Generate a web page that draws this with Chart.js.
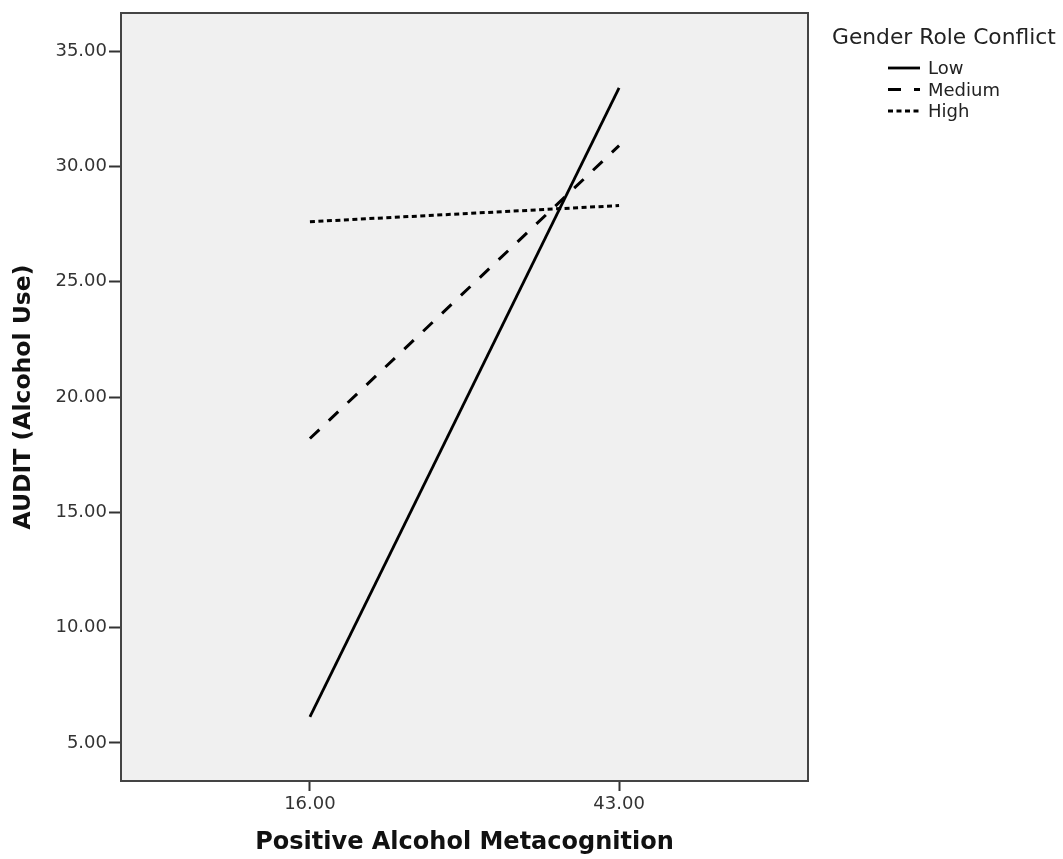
<!DOCTYPE html>
<html>
<head>
<meta charset="utf-8">
<script src="https://cdn.jsdelivr.net/npm/chart.js@4/dist/chart.umd.min.js"></script>
<style>
  html, body { margin: 0; padding: 0; background: #fff; }
  canvas { display: block; }
</style>
</head>
<body>
<canvas id="chart" width="1063" height="859"></canvas>
<script>
"use strict";
// values
const xValues = [16, 43];
const lowValues = [6.13, 33.4];
const mediumValues = [18.2, 30.9];
const highValues = [27.6, 28.3];
const seriesLabels = ["Low", "Medium", "High"];
const xTicks = [16, 43];
const yTicks = [5, 10, 15, 20, 25, 30, 35];
const legendTitle = "Gender Role Conflict";

const FONT = "'DejaVu Sans', 'Lucida Grande', sans-serif";

function toPoints(ys) {
    return xValues.map((x, i) => ({ x: x, y: ys[i] }));
}

// plot area fill + frame
const plotFrame = {
    id: "plotFrame",
    beforeDraw(chart) {
        const a = chart.chartArea;
        const ctx = chart.ctx;
        ctx.save();
        ctx.fillStyle = "#f0f0f0";
        ctx.fillRect(a.left, a.top, a.right - a.left, a.bottom - a.top);
        ctx.restore();
    },
    afterDatasetsDraw(chart) {
        const a = chart.chartArea;
        const ctx = chart.ctx;
        ctx.save();
        ctx.strokeStyle = "#444";
        ctx.lineWidth = 2;
        ctx.strokeRect(a.left, a.top, a.right - a.left, a.bottom - a.top);
        ctx.restore();
    }
};

// legend in the right margin, like the SPSS one
const sideLegend = {
    id: "sideLegend",
    afterDraw(chart) {
        const ctx = chart.ctx;
        ctx.save();
        ctx.fillStyle = "#222";
        ctx.textBaseline = "middle";
        ctx.textAlign = "left";
        ctx.font = "21.8px " + FONT;
        ctx.fillText(legendTitle, 832, 38);
        ctx.font = "18px " + FONT;
        chart.data.datasets.forEach((ds, i) => {
            const y = 68 + i * 21.5;
            ctx.strokeStyle = ds.borderColor;
            ctx.lineWidth = ds.borderWidth;
            ctx.setLineDash(ds.borderDash || []);
            ctx.beginPath();
            ctx.moveTo(888, y);
            ctx.lineTo(920, y);
            ctx.stroke();
            ctx.setLineDash([]);
            ctx.fillText(ds.label, 928, y + 1.5);
        });
        ctx.restore();
    }
};

function createChart() {
    const ctx = document.getElementById("chart").getContext("2d");
    new Chart(ctx, {
        type: "line",
        data: {
            datasets: [
                {
                    label: seriesLabels[0],
                    data: toPoints(lowValues),
                    borderColor: "#000",
                    borderWidth: 2.8,
                    borderDash: [],
                },
                {
                    label: seriesLabels[1],
                    data: toPoints(mediumValues),
                    borderColor: "#000",
                    borderWidth: 3,
                    borderDash: [13, 13],
                },
                {
                    label: seriesLabels[2],
                    data: toPoints(highValues),
                    borderColor: "#000",
                    borderWidth: 3,
                    borderDash: [5, 3.5],
                },
            ],
        },
        options: {
            responsive: false,
            animation: false,
            elements: {
                point: { radius: 0 },
                line: { tension: 0, borderCapStyle: "butt" },
            },
            layout: {
                padding: { top: 13, right: 255, left: 0, bottom: 0 },
            },
            plugins: {
                legend: { display: false },
                tooltip: { enabled: false },
            },
            scales: {
                x: {
                    type: "linear",
                    min: -0.5,
                    max: 59.5,
                    afterBuildTicks: (scale) => {
                        scale.ticks = xTicks.map(v => ({ value: v }));
                    },
                    afterFit: (scale) => { scale.height = 78; },
                    border: { display: false },
                    grid: {
                        drawOnChartArea: false,
                        drawTicks: true,
                        tickLength: 10,
                        tickWidth: 2,
                        tickColor: "#333",
                    },
                    ticks: {
                        padding: 3,
                        color: "#333",
                        font: { family: FONT, size: 18 },
                        callback: (v) => Number(v).toFixed(2),
                        maxRotation: 0,
                    },
                    title: {
                        display: true,
                        text: "Positive Alcohol Metacognition",
                        color: "#111",
                        font: { family: FONT, size: 24, weight: "bold" },
                        padding: { top: 0, bottom: 2 },
                    },
                },
                y: {
                    type: "linear",
                    min: 3.35,
                    max: 36.65,
                    afterBuildTicks: (scale) => {
                        scale.ticks = yTicks.map(v => ({ value: v }));
                    },
                    afterFit: (scale) => { scale.width = 121; },
                    border: { display: false },
                    grid: {
                        drawOnChartArea: false,
                        drawTicks: true,
                        tickLength: 12,
                        tickWidth: 2,
                        tickColor: "#333",
                    },
                    ticks: {
                        padding: 2,
                        color: "#333",
                        font: { family: FONT, size: 18 },
                        callback: (v) => Number(v).toFixed(2),
                    },
                    title: {
                        display: true,
                        text: "AUDIT (Alcohol Use)",
                        color: "#111",
                        font: { family: FONT, size: 23.5, weight: "bold" },
                        padding: { top: 10, bottom: 0 },
                    },
                },
            },
        },
        plugins: [plotFrame, sideLegend],
    });
}

createChart();
</script>
</body>
</html>
